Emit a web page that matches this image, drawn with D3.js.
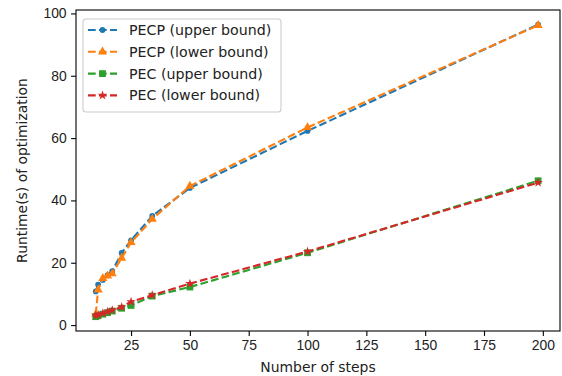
<!DOCTYPE html>
<html>
<head>
<meta charset="utf-8">
<script src="https://cdn.jsdelivr.net/npm/d3@7"></script>
<style>
  body { margin: 0; background: #fff; }
  svg { display: block; font-family: "DejaVu Sans", sans-serif; }
</style>
</head>
<body>
<div id="chart"></div>
<script>
// Data
var steps = [10, 11, 13, 15, 17, 21, 25, 34, 50, 100, 198];
var pecpUpper = [10.8, 13, 14.5, 16, 17.3, 23.2, 27.2, 35, 44, 62.3, 96.4];
var pecpLower = [3.5, 11.3, 15, 15.8, 16.5, 21.5, 26.5, 34, 44.6, 63.4, 96.2];
var pecUpper = [2.7, 3, 3.5, 4, 4.5, 5.4, 6.3, 9.3, 12.2, 23.2, 46.3];
var pecLower = [3.1, 3.3, 3.8, 4.3, 4.8, 5.8, 7.5, 9.6, 13.3, 23.6, 45.7];
var xTicks = [25, 50, 75, 100, 125, 150, 175, 200];
var yTicks = [0, 20, 40, 60, 80, 100];

var series = [
  { name: "PECP (upper bound)", values: pecpUpper, color: "#1f77b4", symbol: d3.symbolCircle, size: 26 },
  { name: "PECP (lower bound)", values: pecpLower, color: "#ff7f0e", symbol: d3.symbolTriangle, size: 36 },
  { name: "PEC (upper bound)", values: pecUpper, color: "#2ca02c", symbol: d3.symbolSquare, size: 46 },
  { name: "PEC (lower bound)", values: pecLower, color: "#d62728", symbol: d3.symbolStar, size: 28 }
];

var width = 562;
var height = 376;
var margin = { top: 10, right: 2, bottom: 45, left: 76 };
var chartW = width - margin.left - margin.right;
var chartH = height - margin.top - margin.bottom;

var xScale = d3.scaleLinear().domain([1.6, 207.3]).range([0, chartW]);
var yScale = d3.scaleLinear().domain([-1.9, 101.1]).range([chartH, 0]);

var svg = d3.select("#chart").append("svg")
  .attr("width", width)
  .attr("height", height);

var chart = svg.append("g")
  .attr("transform", "translate(" + margin.left + "," + margin.top + ")");

// Axes
var xAxis = d3.axisBottom(xScale).tickValues(xTicks).tickSize(4.9).tickPadding(4.5);
var yAxis = d3.axisLeft(yScale).tickValues(yTicks).tickSize(4.9).tickPadding(4.5);

chart.append("g")
  .attr("transform", "translate(0," + chartH + ")")
  .call(xAxis);
chart.append("g").call(yAxis);

chart.selectAll(".domain").remove();
chart.selectAll(".tick line").attr("stroke", "#000").attr("stroke-width", 1.1);
chart.selectAll(".tick text").attr("fill", "#222").style("font-size", "13.9px");

// Lines and markers
var line = d3.line()
  .x(function(d, i) { return xScale(steps[i]); })
  .y(function(d) { return yScale(d); });

series.forEach(function(s) {
  chart.append("path")
    .attr("d", line(s.values))
    .attr("fill", "none")
    .attr("stroke", s.color)
    .attr("stroke-width", 2.1)
    .attr("stroke-dasharray", "7.7,3.3");

  chart.append("g").selectAll("path")
    .data(s.values)
    .enter().append("path")
    .attr("transform", function(d, i) { return "translate(" + xScale(steps[i]) + "," + yScale(d) + ")"; })
    .attr("d", d3.symbol().type(s.symbol).size(s.size))
    .attr("fill", s.color);
});

// Frame
chart.append("rect")
  .attr("width", chartW)
  .attr("height", chartH)
  .attr("fill", "none")
  .attr("stroke", "#000")
  .attr("stroke-width", 1.1);

// Axis labels
svg.append("text")
  .attr("x", margin.left + chartW / 2)
  .attr("y", 372)
  .attr("text-anchor", "middle")
  .attr("fill", "#222")
  .style("font-size", "13.9px")
  .text("Number of steps");

svg.append("text")
  .attr("transform", "translate(27," + (margin.top + chartH / 2) + ") rotate(-90)")
  .attr("text-anchor", "middle")
  .attr("fill", "#222")
  .style("font-size", "13.9px")
  .text("Runtime(s) of optimization");

// Legend
var legend = svg.append("g").attr("transform", "translate(83,19)");
legend.append("rect")
  .attr("width", 198)
  .attr("height", 93)
  .attr("rx", 3)
  .attr("fill", "#fff")
  .attr("fill-opacity", 0.8)
  .attr("stroke", "#ccc")
  .attr("stroke-width", 1.1);

series.forEach(function(s, i) {
  var y = 11 + i * 21.8;
  var g = legend.append("g").attr("transform", "translate(0," + y + ")");
  g.append("line")
    .attr("x1", 5).attr("x2", 34)
    .attr("stroke", s.color)
    .attr("stroke-width", 2.1)
    .attr("stroke-dasharray", "7.7,3.3");
  g.append("path")
    .attr("transform", "translate(19.5,0)")
    .attr("d", d3.symbol().type(s.symbol).size(s.size))
    .attr("fill", s.color);
  g.append("text")
    .attr("x", 46)
    .attr("dy", "0.35em")
    .attr("fill", "#222")
    .style("font-size", "14.2px")
    .text(s.name);
});
</script>
</body>
</html>
